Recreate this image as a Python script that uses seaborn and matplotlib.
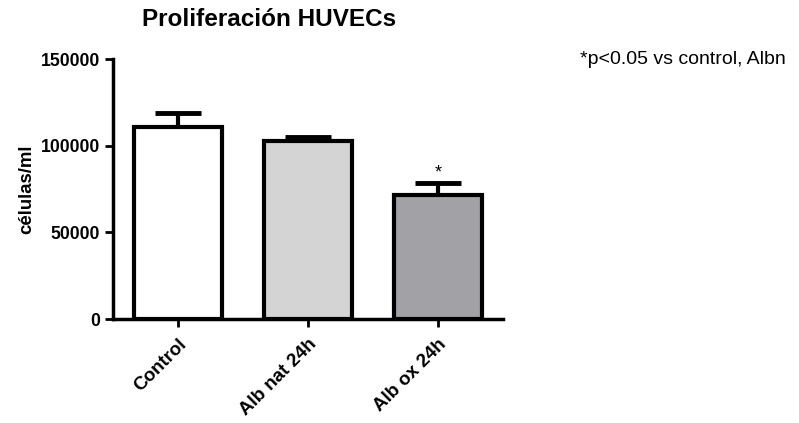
import matplotlib
matplotlib.use("Agg")
import matplotlib.pyplot as plt
import seaborn as sns
import pandas as pd
import numpy as np

categories = ["Control", "Alb nat 24h", "Alb ox 24h"]
means = [111000, 102800, 71500]
sems = [8000, 2300, 7000]
colors = ["#ffffff", "#d4d4d4", "#a2a1a6"]
yticks = [0, 50000, 100000, 150000]

sns.set_theme(style="ticks")
plt.rcParams['font.family'] = ['Liberation Sans', 'DejaVu Sans']
plt.rcParams['text.color'] = 'black'
plt.rcParams['xtick.color'] = 'black'
plt.rcParams['ytick.color'] = 'black'
plt.rcParams['axes.labelcolor'] = 'black'

df = pd.DataFrame({"grupo": categories, "valor": means})

fig = plt.figure(figsize=(7.99, 4.23), dpi=100)
ax = fig.add_axes([113/799, 1-319/423, (503-113)/799, (319-59)/423])

x = np.arange(len(categories))
tops = np.array(means) + np.array(sems)
ax.vlines(x, means, tops, color="black", linewidth=3, zorder=1)
ax.hlines(tops, x - 0.175, x + 0.175, color="black", linewidth=3.5, zorder=1)

sns.barplot(data=df, x="grupo", y="valor", hue="grupo", palette=colors,
            width=0.67, edgecolor="black", linewidth=3, ax=ax, legend=False,
            errorbar=None, saturation=1, zorder=2)

ax.text(2, tops[2] + 800, "*", ha="center", va="bottom", fontsize=13)

ax.set_xlim(-0.5, 2.5)
ax.set_ylim(0, 150000)
ax.set_yticks(yticks)
ax.set_yticklabels([str(v) for v in yticks], fontsize=12.7, fontweight="bold")
ax.set_xticks(range(len(categories)))
ax.set_xticklabels(categories, rotation=45, ha="right", rotation_mode="anchor",
                   fontsize=13.5, fontweight="bold")
ax.set_xlabel("")
ax.set_ylabel("células/ml", fontsize=13.4, fontweight="bold", labelpad=4)
ax.tick_params(axis="both", width=2, length=6, color="black")
ax.tick_params(axis="x", pad=6)
for s in ["left", "bottom"]:
    ax.spines[s].set_linewidth(2.5)
    ax.spines[s].set_color("black")
sns.despine(ax=ax)

fig.text(269/799, 1-19/423, "Proliferación HUVECs", ha="center", va="center",
         fontsize=17.5, fontweight="bold")
fig.text(580/799, 1-59/423, "*p<0.05 vs control, Albn", ha="left", va="center",
         fontsize=14)

fig.savefig("out.png", dpi=100)
